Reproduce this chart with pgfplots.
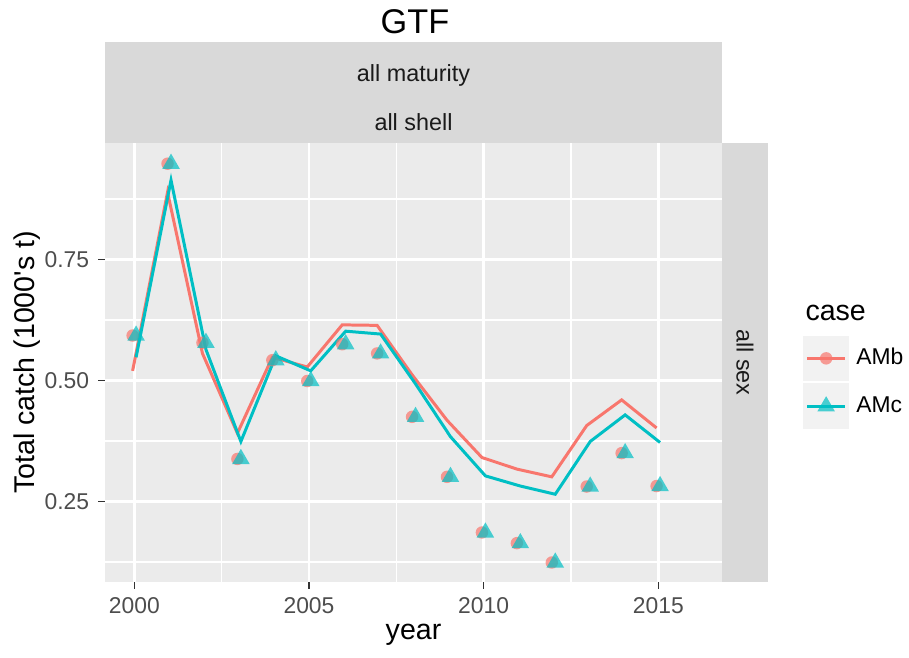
\documentclass[border=0pt]{standalone}
\usepackage{fontspec}
\setmainfont{Liberation Sans}
\usepackage{pgfplots}
\pgfplotsset{compat=1.18}
\usepackage{pgfplotstable}

\definecolor{panelbg}{HTML}{EBEBEB}
\definecolor{stripbg}{HTML}{D9D9D9}
\definecolor{keybg}{HTML}{F2F2F2}
\definecolor{ambcol}{HTML}{F8766D}
\definecolor{amccol}{HTML}{00BFC4}
\definecolor{ticklab}{HTML}{4D4D4D}
\definecolor{tickcol}{HTML}{333333}
\definecolor{striptext}{HTML}{1A1A1A}

\newcommand{\smallfont}{\fontsize{8.8}{10}\selectfont}
\newcommand{\stripfont}{\fontsize{9}{10}\selectfont}
\newcommand{\midfont}{\fontsize{11}{13}\selectfont}
\newcommand{\bigfont}{\fontsize{13.2}{15}\selectfont}

% observed catch and the two model fits
\pgfplotstableread{
year obs   AMb   AMc
2000 0.593 0.520 0.548
2001 0.948 0.889 0.914
2002 0.578 0.556 0.564
2003 0.338 0.391 0.374
2004 0.542 0.548 0.551
2005 0.499 0.528 0.520
2006 0.575 0.615 0.602
2007 0.556 0.614 0.596
2008 0.425 0.512 0.493
2009 0.301 0.418 0.384
2010 0.186 0.341 0.303
2011 0.164 0.317 0.282
2012 0.124 0.301 0.265
2013 0.281 0.407 0.374
2014 0.350 0.460 0.429
2015 0.282 0.402 0.372
}\catchtab

\begin{document}
\begin{tikzpicture}[x=0.385pt,y=0.385pt]
\path[use as bounding box] (0,0) rectangle (909,657);
% facet strips
\fill[stripbg] (105,514) rectangle (722,615);
\fill[stripbg] (722,75) rectangle (768,514);
\node[font=\stripfont, text=striptext] at (413.5,582) {all maturity};
\node[font=\stripfont, text=striptext] at (413.5,535) {all shell};
\node[font=\stripfont, text=striptext, rotate=-90] at (745,294.5) {all sex};
% titles
\node[font=\bigfont] at (415,635) {GTF};
\node[font=\midfont] at (413.5,22) {year};
\node[font=\midfont, rotate=90] at (27,294.5) {Total catch (1000\textquotesingle s t)};
\node[font=\midfont, anchor=west, inner sep=0pt] at (805,344) {case};

\begin{axis}[
  at={(40.425pt,28.875pt)}, anchor=south west,
  scale only axis, width=237.5pt, height=169pt,
  xmin=1999.16, xmax=2016.82, ymin=0.0837, ymax=0.9907,
  axis background/.style={fill=panelbg},
  axis line style={draw=none},
  xtick={2000,2005,2010,2015}, ytick={0.25,0.5,0.75},
  minor xtick={2002.5,2007.5,2012.5},
  minor ytick={0.125,0.375,0.625,0.875},
  grid=both,
  major grid style={white, line width=1.15pt},
  minor grid style={white, line width=0.6pt},
  tick align=outside, major tick length=2.6pt, minor tick length=0pt,
  tick style={tickcol, line width=0.5pt},
  xtick pos=bottom, ytick pos=left,
  ticklabel style={font=\smallfont, text=ticklab},
  /pgf/number format/assume math mode=true,
  xticklabel style={/pgf/number format/1000 sep={}},
  yticklabel style={/pgf/number format/.cd, fixed, fixed zerofill, precision=2},
  legend style={at={(axis description cs:1.131,0.5626)}, anchor=north west,
    draw=none, fill=none, inner sep=0pt, row sep=0.9pt, column sep=2.8pt,
    nodes={inner sep=0pt, font=\smallfont, text=black}},
  legend cell align=left,
  legend image code/.code={
    \fill[keybg] (0pt,-8.2pt) rectangle (16.5pt,8.2pt);
    \draw[mark repeat=2,mark phase=2,#1] plot coordinates {(1pt,0pt) (8.25pt,0pt) (15.5pt,0pt)};
  },
]
\addplot[only marks, mark=*, mark size=2.4pt,
  mark options={draw opacity=0, fill=ambcol, fill opacity=0.7}, forget plot]
  table[x expr=\thisrow{year}-0.05, y=obs]{\catchtab};
\addplot[only marks, mark=triangle*, mark size=3.9pt,
  mark options={draw opacity=0, fill=amccol, fill opacity=0.7}, forget plot]
  table[x expr=\thisrow{year}+0.05, y=obs]{\catchtab};
\addplot[ambcol, line width=1.15pt, no marks, forget plot]
  table[x expr=\thisrow{year}-0.05, y=AMb]{\catchtab};
\addplot[amccol, line width=1.15pt, no marks, forget plot]
  table[x expr=\thisrow{year}+0.05, y=AMc]{\catchtab};

\addlegendimage{ambcol, line width=1.15pt, mark=*, mark size=2.4pt,
  mark options={draw opacity=0, fill=ambcol, fill opacity=0.7}}
\addlegendentry{AMb}
\addlegendimage{amccol, line width=1.15pt, mark=triangle*, mark size=3.9pt,
  mark options={draw opacity=0, fill=amccol, fill opacity=0.7}}
\addlegendentry{AMc}
\end{axis}
\end{tikzpicture}
\end{document}
